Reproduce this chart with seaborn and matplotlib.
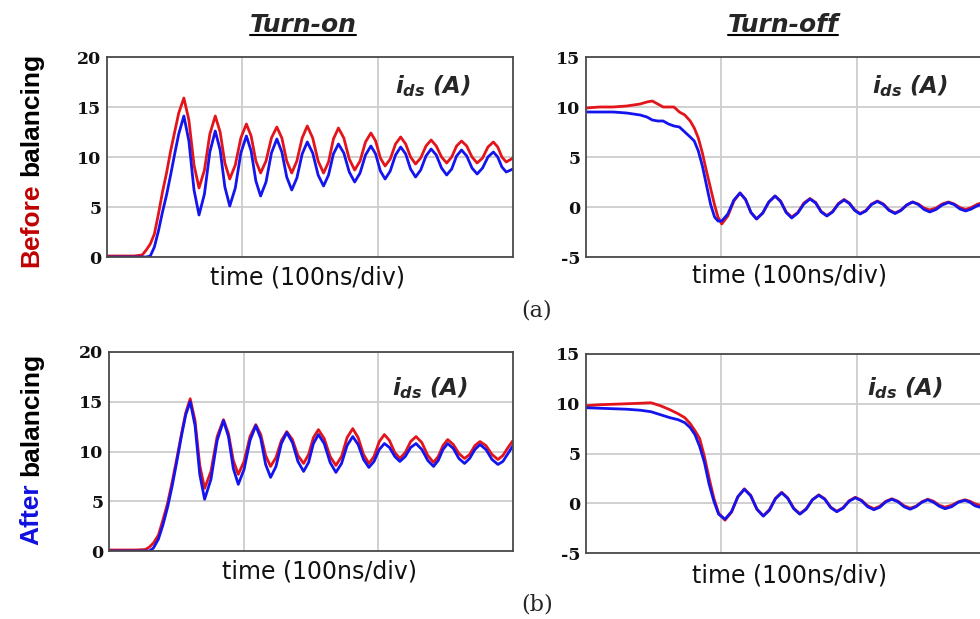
import matplotlib
matplotlib.use("Agg")
import matplotlib.pyplot as plt
import seaborn as sns
from matplotlib.lines import Line2D

# drain current: time in ns (100 ns/div), current in A

# (a) before balancing, turn-on
t_on_before = [0, 10, 20, 26, 29, 32, 35, 38, 41, 44, 47, 50, 53, 56.8,
               60.5, 64.3, 68, 72, 76, 80, 83.6, 87.1, 90.7, 94.8, 98.9, 103,
               106.5, 110, 113.5, 117.5, 121.5, 125.5, 129.2, 132.8, 136.5,
               140.3, 144.2, 148, 152, 156, 160, 163.7, 167.3, 171, 175, 179, 183,
               187, 191, 195, 198.5, 202, 205.5, 209.3, 213.2, 217, 220.7, 224.3, 228,
               231.8, 235.7, 239.5, 243.3, 247.2, 251, 254.7, 258.3, 262,
               265.8, 269.7, 273.5, 277.5, 281.5, 285.5, 288.7, 291.8, 295, 300]
red_on_before = [0.1, 0.1, 0.1, 0.2, 0.7, 1.3, 2.3, 4.3, 6.5, 8.4, 10.6, 12.5, 14.4, 15.9,
                 13.7, 9.2, 6.9, 8.7, 12.3, 14.1, 12.5, 9.4, 7.8, 9.2, 11.9, 13.3,
                 12.1, 9.6, 8.4, 9.6, 11.9, 13.0, 11.9, 9.6, 8.4,
                 9.6, 11.9, 13.1, 11.9, 9.6, 8.4, 9.5, 11.8, 12.9, 11.9, 9.8, 8.7,
                 9.6, 11.5, 12.4, 11.6, 9.9, 9.1, 9.8, 11.3, 12.0, 11.3, 10.0, 9.3,
                 9.9, 11.1, 11.7, 11.1, 10.0, 9.4, 10.0, 11.1, 11.6,
                 11.1, 10.0, 9.4, 9.9, 11.0, 11.5, 11.0, 10.0, 9.5, 9.9]
blue_on_before = [0.0, 0.0, 0.0, 0.0, 0.0, 0.1, 1.0, 2.6, 4.5, 6.2, 8.2, 10.3, 12.3, 14.1,
                  11.6, 6.7, 4.2, 6.3, 10.5, 12.6, 10.7, 7.0, 5.1, 6.9, 10.4, 12.1,
                  10.6, 7.6, 6.1, 7.5, 10.4, 11.8, 10.5, 8.0, 6.7,
                  7.9, 10.3, 11.5, 10.4, 8.2, 7.1, 8.2, 10.3, 11.3, 10.4, 8.5, 7.5,
                  8.4, 10.2, 11.1, 10.3, 8.6, 7.8, 8.6, 10.2, 11.0, 10.3, 8.8, 8.0,
                  8.7, 10.1, 10.8, 10.2, 8.9, 8.2, 8.8, 10.1, 10.7,
                  10.1, 8.9, 8.3, 8.9, 10.0, 10.5, 10.0, 9.0, 8.5, 8.8]

# (a) before balancing, turn-off
t_off_before = [0, 10, 20, 30, 40, 45, 49, 53, 57, 61, 65, 69, 73, 77, 80, 83, 86, 89,
                92, 95, 97.5, 100.3, 104.8, 109.3, 113.8, 117.9, 121.9, 126,
                130.6, 135.1, 139.7, 143.8, 147.9, 152, 156.5, 161, 165.5,
                169.7, 173.8, 178, 182.2, 186.5, 190.7, 194.6, 198.6, 202.5,
                206.8, 211, 215.3, 219.7, 224, 228.4, 232.7, 237, 241.3,
                245.5, 249.8, 254, 258.6, 263.2, 267.8, 272, 276.3, 280.5,
                284.7, 288.8, 293, 300]
red_off_before = [9.9, 10.0, 10.0, 10.1, 10.3, 10.5, 10.6, 10.3, 10.0, 10.0, 10.0, 9.5,
                  9.2, 8.6, 7.9, 6.9, 5.4, 3.6, 1.9, 0.2, -1.0, -1.7,
                  -0.9, 0.6, 1.4, 0.75, -0.55, -1.2, -0.6, 0.5, 1.1, 0.6, -0.5, -1.0,
                  -0.55, 0.4, 0.85, 0.45, -0.45, -0.85, -0.45, 0.35, 0.75, 0.4, -0.3, -0.65,
                  -0.35, 0.3, 0.6, 0.3, -0.3, -0.6, -0.3, 0.2, 0.5, 0.3, -0.1, -0.3,
                  -0.1, 0.3, 0.5, 0.3, -0.05, -0.25, -0.05, 0.25, 0.45, 0.3]
blue_off_before = [9.5, 9.5, 9.5, 9.4, 9.2, 9.0, 8.7, 8.6, 8.6, 8.3, 8.1, 8.0,
                   7.5, 7.0, 6.6, 5.6, 4.1, 2.2, 0.3, -1.0, -1.4, -1.4,
                   -0.7, 0.7, 1.4, 0.75, -0.55, -1.2, -0.6, 0.5, 1.1, 0.55, -0.55, -1.1,
                   -0.6, 0.3, 0.8, 0.4, -0.5, -0.9, -0.5, 0.3, 0.7, 0.35, -0.35, -0.7,
                   -0.4, 0.25, 0.55, 0.25, -0.35, -0.65, -0.35, 0.2, 0.5, 0.25, -0.25, -0.5,
                   -0.25, 0.2, 0.45, 0.25, -0.2, -0.4, -0.2, 0.1, 0.3, 0.1]

# (b) after balancing, turn-on
t_on_after = [0, 10, 20, 27, 30, 33, 36.7, 40, 43.5, 47, 50.5, 54, 57, 60.3,
              63.9, 67.4, 71, 75.7, 80.3, 85, 88.7, 92.3, 96, 100.3, 104.7, 109,
              112.7, 116.3, 120, 124, 128, 132, 136.2, 140.3, 144.5,
              148.2, 151.8, 155.5, 159.8, 164.2, 168.5, 172.7, 176.8, 181,
              185, 189, 193, 196.8, 200.7, 204.5, 208.3, 212.2, 216, 220, 224, 228,
              232.3, 236.7, 241, 244.5, 248, 251.5, 255.7, 259.8, 264,
              267.8, 271.7, 275.5, 279.9, 284.4, 288.8, 292.5, 296.3, 300]
red_on_after = [0.1, 0.1, 0.1, 0.15, 0.4, 0.8, 1.6, 3.1, 4.8, 7.0, 9.4, 11.9, 13.9, 15.3,
                13.1, 8.6, 6.3, 8.0, 11.5, 13.2, 11.8, 9.1, 7.7, 9.0, 11.5, 12.7,
                11.7, 9.6, 8.5, 9.4, 11.1, 12.0, 11.2, 9.6, 8.8,
                9.7, 11.4, 12.2, 11.3, 9.5, 8.6, 9.5, 11.4, 12.3,
                11.4, 9.7, 8.8, 9.5, 11.0, 11.7, 11.1, 9.9, 9.3, 9.9, 11.0, 11.5,
                10.9, 9.6, 8.9, 9.5, 10.6, 11.2, 10.7, 9.8, 9.3,
                9.7, 10.6, 11.0, 10.6, 9.7, 9.2, 9.6, 10.4, 11.1]
blue_on_after = [0.0, 0.0, 0.0, 0.0, 0.0, 0.3, 1.2, 2.6, 4.4, 6.6, 9.1, 11.7, 13.7, 15.0,
                 12.6, 7.7, 5.2, 7.2, 11.1, 13.1, 11.5, 8.3, 6.7, 8.2, 11.1, 12.6,
                 11.3, 8.7, 7.4, 8.5, 10.8, 11.9, 10.9, 9.0, 8.0,
                 8.9, 10.8, 11.7, 10.8, 8.9, 7.9, 8.8, 10.6, 11.5,
                 10.7, 9.2, 8.4, 9.0, 10.2, 10.8, 10.4, 9.5, 9.0, 9.5, 10.4, 10.8,
                 10.2, 9.1, 8.5, 9.1, 10.2, 10.8, 10.3, 9.3, 8.8,
                 9.3, 10.2, 10.7, 10.2, 9.2, 8.7, 9.0, 9.8, 10.6]

# (b) after balancing, turn-off
t_off_after = [0, 10, 20, 30, 40, 48, 55, 62, 68, 73, 77, 80.5, 84, 87.5, 91, 94.5, 98, 102.7,
               107.5, 112.2, 117, 121.7, 126.3, 131, 135.5, 140, 144.6,
               149, 153.5, 158, 162.7, 167.3, 172, 176.4, 180.9, 185.3,
               189.9, 194.4, 199, 203.6, 208.1, 212.7, 217.1, 221.6, 226,
               230.5, 235, 239.5, 243.8, 248.2, 252.5, 256.8, 261, 265.3,
               270.2, 275.1, 280, 283.7, 287.3, 291, 295.5, 300]
red_off_after = [9.8, 9.9, 9.95, 10.0, 10.05, 10.1, 9.8, 9.4, 9.0, 8.6, 8.0, 7.3, 6.5, 4.7,
                 2.5, 0.5, -1.0, -1.7,
                 -0.9, 0.65, 1.45, 0.8, -0.6, -1.25, -0.65, 0.5, 1.1,
                 0.55, -0.5, -1.05, -0.55, 0.35, 0.85, 0.45, -0.4, -0.8,
                 -0.45, 0.25, 0.6, 0.3, -0.25, -0.55, -0.3, 0.2, 0.45,
                 0.2, -0.25, -0.5, -0.3, 0.15, 0.4, 0.2, -0.2, -0.4,
                 -0.2, 0.15, 0.35, 0.2, -0.05, -0.2, -0.05, 0.1]
blue_off_after = [9.6, 9.55, 9.5, 9.45, 9.35, 9.2, 8.9, 8.6, 8.4, 8.1, 7.6, 6.9, 5.7, 4.1,
                  1.9, 0.2, -1.1, -1.6,
                  -0.85, 0.65, 1.4, 0.75, -0.6, -1.3, -0.7, 0.45, 1.05,
                  0.5, -0.55, -1.1, -0.6, 0.35, 0.8, 0.4, -0.45, -0.85,
                  -0.5, 0.2, 0.55, 0.25, -0.35, -0.65, -0.4, 0.15, 0.4,
                  0.15, -0.35, -0.6, -0.35, 0.1, 0.35, 0.1, -0.3, -0.55,
                  -0.35, 0.1, 0.3, 0.1, -0.25, -0.4, -0.3, -0.15]

on_ticks = [0, 5, 10, 15, 20]
off_ticks = [-5, 0, 5, 10, 15]

sns.set_style("white")
plt.rcParams['axes.unicode_minus'] = False
plt.rcParams['mathtext.fontset'] = 'custom'
plt.rcParams['mathtext.it'] = 'DejaVu Sans:italic:bold'
plt.rcParams['mathtext.rm'] = 'DejaVu Sans:bold'
plt.rcParams['mathtext.bf'] = 'DejaVu Sans:bold'

RED = '#e3151b'
BLUE = '#1414ee'
W, H = 980, 619

fig = plt.figure(figsize=(9.8, 6.19), dpi=100)
r = fig.canvas.get_renderer()


def box(left, top, right, bottom):
    return [left / W, 1 - bottom / H, (right - left) / W, (bottom - top) / H]


panels = [
    (box(107, 57, 513, 257), t_on_before, red_on_before, blue_on_before, on_ticks,
     (0.709, 0.82), (0.493, -0.135)),
    (box(586, 57, 992, 257), t_off_before, red_off_before, blue_off_before, off_ticks,
     (0.704, 0.82), (0.50, -0.13)),
    (box(109, 352, 513, 551), t_on_after, red_on_after, blue_on_after, on_ticks,
     (0.70, 0.784), (0.522, -0.136)),
    (box(586, 354, 992, 553), t_off_after, red_off_after, blue_off_after, off_ticks,
     (0.692, 0.794), (0.50, -0.146)),
]

for pos, t, red, blue, yt, ids_xy, xl_xy in panels:
    ax = fig.add_axes(pos)
    sns.lineplot(x=t, y=red, ax=ax, color=RED, lw=2.0, estimator=None, sort=False,
                 solid_joinstyle='round')
    sns.lineplot(x=t, y=blue, ax=ax, color=BLUE, lw=2.0, estimator=None, sort=False,
                 solid_joinstyle='round')
    ax.set_xlim(0, 300)
    ax.set_ylim(yt[0], yt[-1])
    ax.set_xticks([100, 200])
    ax.set_xticklabels([])
    ax.set_yticks(yt)
    ax.set_yticklabels([str(v) for v in yt], fontfamily='DejaVu Serif',
                       fontweight='bold', fontsize=12.5, color='#111111')
    ax.tick_params(length=0, pad=4)
    ax.set_axisbelow(True)
    ax.grid(True, color='#cdcdcd', lw=1.3)
    for s in ax.spines.values():
        s.set_color('#4a4a4a')
        s.set_linewidth(1.3)
    ax.set_ylabel('')
    ax.set_xlabel('time (100ns/div)', fontsize=17, family='DejaVu Sans', color='#111111')
    ax.xaxis.label.set_va('baseline')
    ax.xaxis.set_label_coords(*xl_xy)
    ax.text(ids_xy[0], ids_xy[1], r'$i_{ds}$ (A)', transform=ax.transAxes,
            fontsize=16.5, fontweight='bold', style='italic', family='DejaVu Sans',
            ha='left', va='baseline')

# column titles, underlined
for cx, title in [(303, 'Turn-on'), (783, 'Turn-off')]:
    tt = fig.text(cx / W, 1 - 32 / H, title, ha='center', va='baseline', fontsize=18,
                  fontweight='bold', style='italic', family='DejaVu Sans')
    bb = tt.get_window_extent(r)
    fig.add_artist(Line2D([bb.x0 / W, bb.x1 / W], [1 - 35 / H] * 2, color='black', lw=1.5))

# two-colour row labels
kw = dict(fontsize=19, fontweight='bold', family='Liberation Sans')
for y_px, first, rest, col in [(267, 'Before', 'balancing', '#c00000'),
                               (545, 'After', 'balancing', '#1010e0')]:
    x, y = 38 / W, 1 - y_px / H
    full = fig.text(0, 0, first + ' ' + rest, **kw)
    tail = fig.text(0, 0, rest, **kw)
    shift = full.get_window_extent(r).width - tail.get_window_extent(r).width
    full.remove()
    tail.remove()
    fig.text(x, y, first, color=col, rotation=90, rotation_mode='anchor',
             ha='left', va='baseline', **kw)
    fig.text(x, y + shift / H, rest, color='black', rotation=90, rotation_mode='anchor',
             ha='left', va='baseline', **kw)

fig.text(537 / W, 1 - 311 / H, '(a)', ha='center', va='center', fontsize=16, family='DejaVu Serif')
fig.text(537 / W, 1 - 605 / H, '(b)', ha='center', va='center', fontsize=16, family='DejaVu Serif')

fig.savefig('out.png', dpi=100)
